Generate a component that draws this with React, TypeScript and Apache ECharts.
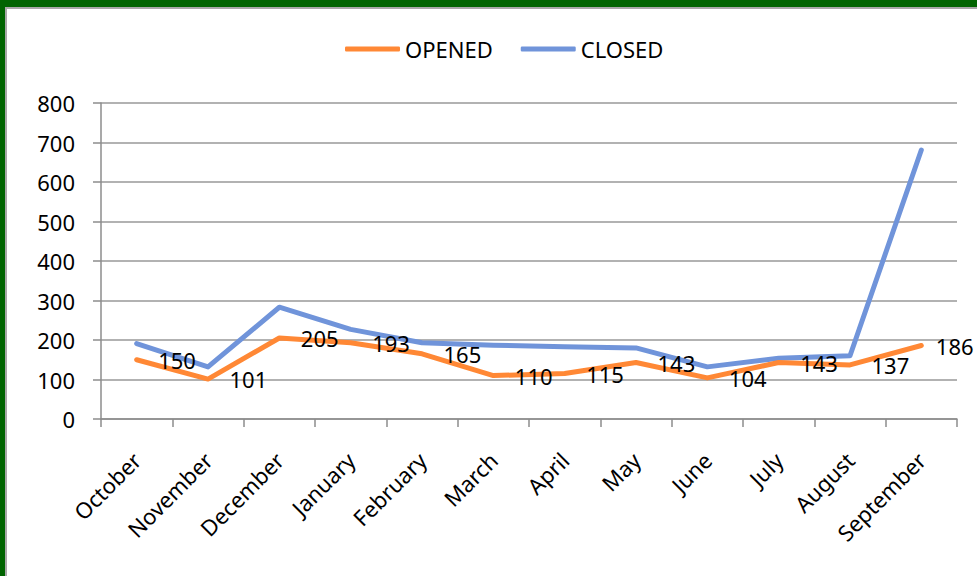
import React, { useEffect, useRef } from "react";
import * as echarts from "echarts";

const categories = ["October", "November", "December", "January", "February", "March", "April", "May", "June", "July", "August", "September"];
const opened = [150, 101, 205, 193, 165, 110, 115, 143, 104, 143, 137, 186];
const closed = [191, 132, 283, 227, 193, 187, 183, 180, 132, 154, 160, 681];
const yMin = 0;
const yMax = 800;
const yStep = 100;

const FONT = "'Noto Sans', Lato, sans-serif";

export default function App() {
  const ref = useRef<HTMLDivElement>(null);
  useEffect(() => {
    if (!ref.current) return;
    const chart = echarts.init(ref.current, null, { renderer: "svg" });
    const openedData = opened.map((v, i) =>
      i === opened.length - 1 ? { value: v, label: { distance: 14 } } : v
    );
    chart.setOption({
      animation: false,
      backgroundColor: "#ffffff",
      textStyle: { fontFamily: FONT },
      graphic: [
        { type: "rect", shape: { x: 0, y: 0, width: 977, height: 7 }, style: { fill: "#006400" }, z: 100 },
        { type: "rect", shape: { x: 0, y: 0, width: 5, height: 576 }, style: { fill: "#006400" }, z: 100 },
        { type: "rect", shape: { x: 5, y: 7, width: 972, height: 2 }, style: { fill: "#a8a8a8" }, z: 99 },
        { type: "rect", shape: { x: 5, y: 7, width: 2, height: 569 }, style: { fill: "#a8a8a8" }, z: 99 },
      ],
      legend: {
        top: 33,
        left: 340,
        itemWidth: 55,
        itemHeight: 5,
        itemGap: 28,
        icon: "roundRect",
        textStyle: { fontSize: 22, color: "#000", fontFamily: FONT },
        data: ["OPENED", "CLOSED"],
      },
      grid: { left: 101, right: 20, top: 103, bottom: 157, containLabel: false },
      xAxis: {
        type: "category",
        data: categories,
        boundaryGap: true,
        axisLine: { show: true, lineStyle: { color: "#8c8c8c", width: 1.5 } },
        axisTick: { show: true, length: 8, lineStyle: { color: "#8c8c8c", width: 1.5 } },
        axisLabel: { rotate: 45, margin: 37, fontSize: 22, color: "#000", fontFamily: FONT, interval: 0 },
      },
      yAxis: {
        type: "value",
        min: yMin,
        max: yMax,
        interval: yStep,
        axisLine: { show: true, lineStyle: { color: "#8c8c8c", width: 1.5 } },
        axisTick: { show: true, length: 8, lineStyle: { color: "#8c8c8c", width: 1.5 } },
        axisLabel: { margin: 26, fontSize: 22, color: "#000", fontFamily: FONT },
        splitLine: { show: true, lineStyle: { color: "#999999", width: 1.5 } },
      },
      series: [
        {
          name: "OPENED",
          type: "line",
          data: openedData,
          symbol: "circle",
          symbolSize: 1,
          color: "#FF8835",
          lineStyle: { width: 5, color: "#FF8835", cap: "round", join: "round" },
          itemStyle: { color: "#FF8835" },
          label: { show: true, position: "right", distance: 21, fontSize: 22, color: "#000", fontFamily: FONT },
          z: 3,
        },
        {
          name: "CLOSED",
          type: "line",
          data: closed,
          symbol: "circle",
          symbolSize: 1,
          color: "#7094DA",
          lineStyle: { width: 5, color: "#7094DA", cap: "round", join: "round" },
          itemStyle: { color: "#7094DA" },
          z: 2,
        },
      ],
    });
    return () => chart.dispose();
  }, []);
  return <div ref={ref} style={{ position: "fixed", left: 0, top: 0, width: 977, height: 576 }} />;
}
